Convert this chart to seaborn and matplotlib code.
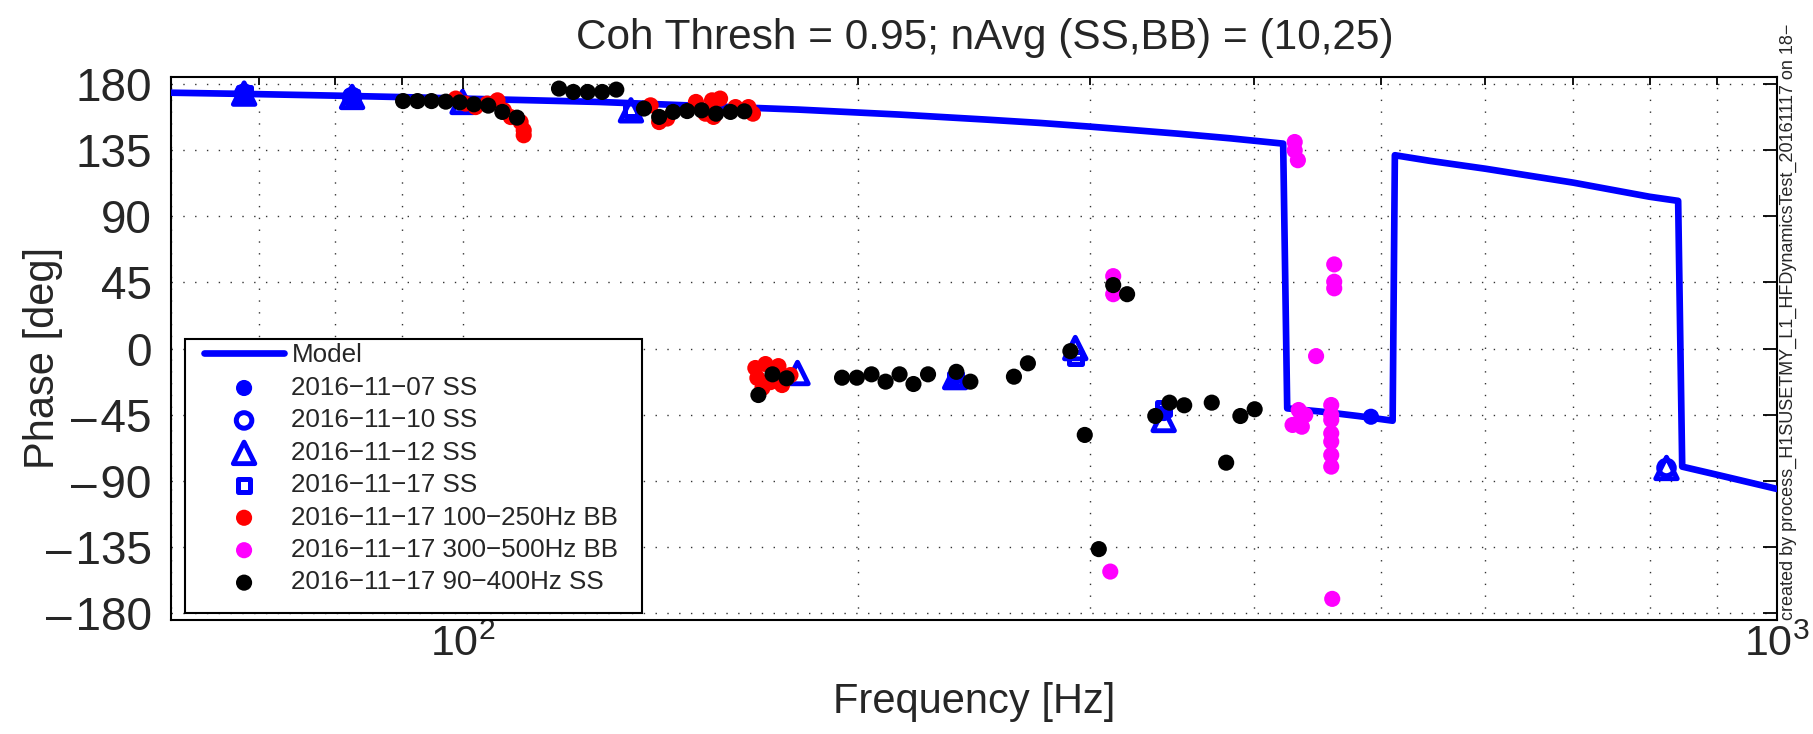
import numpy as np
import pandas as pd
import matplotlib
matplotlib.use("Agg")
import matplotlib.pyplot as plt
import seaborn as sns
from matplotlib.patches import Rectangle
from matplotlib.ticker import FixedLocator, NullFormatter, LogFormatterSciNotation, FuncFormatter

# ---------------- data ----------------
title = "Coh Thresh = 0.95; nAvg (SS,BB) = (10,25)"
xlabel = "Frequency [Hz]"
ylabel = "Phase [deg]"
side_note = "created by process_H1SUSETMY_L1_HFDynamicsTest_20161117 on 18\u2212"

phase_ticks = [-180, -135, -90, -45, 0, 45, 90, 135, 180]
freq_major = [100, 1000]
freq_minor = [60, 70, 80, 90, 200, 300, 400, 500, 600, 700, 800, 900]

model_f = [60, 70, 80, 90, 100, 127, 150, 180, 215, 250, 275, 300, 350, 384, 400, 421,
           424, 450, 480, 510, 512, 545, 600, 700, 800, 841, 847, 900, 1000]
model_p = [174.3, 173.3, 172.3, 171.3, 170.3, 168.0, 165.5, 162.8, 159.4, 156.0, 153.7,
           151.2, 146.4, 143.2, 141.6, 139.6, -40.8, -43.0, -46.0, -49.2, 131.7, 127.8,
           122.5, 113.0, 103.4, 100.6, -80.5, -86.0, -95.7]

ss1107_f = [68.2, 82.4, 237.0, 341.5, 491.0]
ss1107_p = [173.7, 171.4, -19.5, -44.0, -46.5]

ss1110_f = [68.2, 82.4, 824.0]
ss1110_p = [173.7, 171.4, -81.4]

ss1112_f = [68.2, 82.4, 100.0, 134.3, 179.8, 237.0, 292.5, 341.5, 824.0]
ss1112_p = [173.7, 171.4, 168.0, 162.3, -16.7, -19.5, 0.3, -48.7, -81.4]

ss1117_f = [68.2, 82.4, 134.3, 237.0, 292.5, 341.5]
ss1117_p = [173.7, 171.4, 163.0, -21.0, -6.5, -40.8]

bb100_f = [98.8, 100.5, 102.3, 104.4, 106.3, 107.5, 108.8, 110.7, 111.3, 111.3,
           139.0, 141.1, 143.1, 150.5, 153.0, 154.8, 155.2, 157.0, 161.3, 165.0, 166.3,
           167.0, 170.0, 173.9, 167.6, 171.5, 175.0, 177.6, 169.1]
bb100_p = [170.3, 166.9, 164.5, 166.9, 169.1, 162.3, 157.7, 154.3, 148.7, 145.3,
           165.7, 154.3, 156.7, 168.0, 160.0, 169.1, 157.8, 170.3, 164.5, 164.5, 160.0,
           -13.3, -10.6, -12.0, -20.1, -22.9, -24.9, -18.1, -26.9]

bb300_f = [312.6, 312.6, 311.0, 429.6, 429.6, 432.0, 432.6, 435.0, 428.0, 435.0, 437.6,
           446.0, 460.4, 460.4, 460.4, 458.0, 458.0, 458.0, 458.0, 458.0, 458.0, 458.0, 458.8]
bb300_p = [49.3, 37.0, -152.0, 140.7, 135.0, 128.3, -41.9, -46.5, -52.1, -53.3, -45.3,
           -5.2, 57.3, 45.5, 41.0, -38.5, -45.3, -48.7, -57.8, -63.5, -72.6, -80.5, -170.6]

ss90_f = [90.1, 92.4, 94.7, 97.1, 99.5, 102.0, 104.6, 107.2, 110.0,
          118.4, 121.4, 124.5, 127.7, 130.9, 134.2,
          137.4, 141.1, 144.6, 148.2, 152.0, 155.9, 159.9, 163.8,
          167.9, 172.1, 176.4, 194.4, 199.5, 204.7, 209.8, 215.0, 220.3, 226.0,
          237.5, 243.4, 262.7, 269.2, 290.0, 297.4, 304.8, 312.6, 320.3,
          336.5, 345.0, 354.0, 371.5, 381.0, 390.6, 400.5]
ss90_p = [168.6, 168.6, 168.6, 168.2, 167.7, 166.4, 165.5, 161.2, 157.3,
          177.1, 174.8, 174.8, 174.8, 176.4, -172.0,
          163.5, 157.8, 161.2, 161.8, 162.3, 160.0, 161.2, 161.6,
          -31.7, -17.6, -20.3, -19.9, -19.9, -17.6, -22.6, -17.6, -24.2, -17.6,
          -15.9, -22.6, -19.2, -10.1, -1.8, -58.9, -136.7, 43.2, 37.0,
          -46.0, -36.9, -38.7, -36.9, -77.8, -46.0, -41.4]

labels = ["Model", "2016\u221211\u221207 SS", "2016\u221211\u221210 SS", "2016\u221211\u221212 SS",
          "2016\u221211\u221217 SS", "2016\u221211\u221217 100\u2212250Hz BB",
          "2016\u221211\u221217 300\u2212500Hz BB", "2016\u221211\u221217 90\u2212400Hz SS"]

# ---------------- style ----------------
sns.set_theme(style="white")
plt.rcParams['font.family'] = ['Liberation Sans', 'DejaVu Sans']
plt.rcParams['mathtext.fontset'] = 'custom'
plt.rcParams['mathtext.rm'] = 'Liberation Sans'
plt.rcParams['mathtext.it'] = 'Liberation Sans'
plt.rcParams['axes.unicode_minus'] = True

W, H = 1813, 734
fig = plt.figure(figsize=(W / 100, H / 100), dpi=100)
fig.patch.set_facecolor("white")
x0, x1, y0, y1 = 171, 1777, 77, 620
ax = fig.add_axes([x0 / W, 1 - y1 / H, (x1 - x0) / W, (y1 - y0) / H])
ax.set_xscale("log")

BLUE = "#0000ff"
DOT = 135
model_df = pd.DataFrame({"f": model_f, "p": model_p})
sns.lineplot(data=model_df, x="f", y="p", ax=ax, color=BLUE, lw=4.8, sort=False,
             estimator=None, label=labels[0], zorder=3)

def pts(f, p):
    return pd.DataFrame({"f": f, "p": p})

sns.scatterplot(data=pts(ss1107_f, ss1107_p), x="f", y="p", ax=ax, marker="o", s=DOT,
                facecolor=BLUE, edgecolor="none", linewidth=0, label=labels[1], zorder=4)
sns.scatterplot(data=pts(ss1110_f, ss1110_p), x="f", y="p", ax=ax, marker="o", s=125,
                facecolor="none", edgecolor=BLUE, linewidth=3.6, label=labels[2], zorder=4)
sns.scatterplot(data=pts(ss1112_f, ss1112_p), x="f", y="p", ax=ax, marker="^", s=240,
                facecolor="none", edgecolor=BLUE, linewidth=3.5, label=labels[3], zorder=4)
sns.scatterplot(data=pts(ss1117_f, ss1117_p), x="f", y="p", ax=ax, marker="s", s=85,
                facecolor="none", edgecolor=BLUE, linewidth=3.6, label=labels[4], zorder=4)
sns.scatterplot(data=pts(bb100_f, bb100_p), x="f", y="p", ax=ax, marker="o", s=DOT,
                facecolor="#ff0000", edgecolor="none", linewidth=0, label=labels[5], zorder=5)
sns.scatterplot(data=pts(bb300_f, bb300_p), x="f", y="p", ax=ax, marker="o", s=DOT,
                facecolor="#ff00ff", edgecolor="none", linewidth=0, label=labels[6], zorder=5)
sns.scatterplot(data=pts(ss90_f, ss90_p), x="f", y="p", ax=ax, marker="o", s=DOT,
                facecolor="#000000", edgecolor="none", linewidth=0, label=labels[7], zorder=6)

# ---------------- axes ----------------
ax.set_xlim(60, 1000)
ax.set_ylim(-185, 185)
ax.set_yticks(phase_ticks)
ax.yaxis.set_major_formatter(FuncFormatter(
    lambda v, pos: ("\u2013\u200a%d" % abs(v)) if v < 0 else "%d" % v))
ax.xaxis.set_major_locator(FixedLocator(freq_major))
ax.xaxis.set_major_formatter(LogFormatterSciNotation())
ax.xaxis.set_minor_locator(FixedLocator(freq_minor))
ax.xaxis.set_minor_formatter(NullFormatter())

ax.grid(True, which="both", axis="x", color="0.2", linestyle=(0, (1, 7.5)), lw=1.0)
ax.grid(True, which="major", axis="y", color="0.2", linestyle=(0, (1, 7.5)), lw=1.0)
ax.set_axisbelow(True)

for s in ax.spines.values():
    s.set_visible(True)
    s.set_color("black")
    s.set_linewidth(1.5)

ax.tick_params(which="both", direction="in", top=True, right=True, color="black", width=1.3)
ax.tick_params(which="major", length=10)
ax.tick_params(which="minor", length=6)
ax.tick_params(axis="y", labelsize=33, pad=14)
ax.tick_params(axis="x", labelsize=31, pad=3)

ax.set_title(title, fontsize=30.5, pad=20, x=0.507)
ax.set_xlabel(xlabel, fontsize=30)
ax.set_ylabel(ylabel, fontsize=30)
ax.xaxis.set_label_coords(0.5, -0.115)
ax.yaxis.set_label_coords(-0.067, 0.4825)

# legend: frame drawn as its own box, entries placed inside it
ax.add_patch(Rectangle((0.0087, 0.0129), 0.2846, 0.5046, transform=ax.transAxes,
                       facecolor="white", edgecolor="black", lw=1.5, zorder=9))
leg = ax.legend(loc="upper left", bbox_to_anchor=(0.0176, 0.519), borderaxespad=0,
                frameon=False, fontsize=18.7, handlelength=3.05, handletextpad=0.3,
                labelspacing=0.325, borderpad=0.2, scatterpoints=1)
leg.set_zorder(10)

fig.text(1788 / W, 1 - 620 / H, side_note, rotation=90, ha="center", va="bottom",
         fontsize=13)

fig.savefig("out.png", dpi=100, facecolor="white")
